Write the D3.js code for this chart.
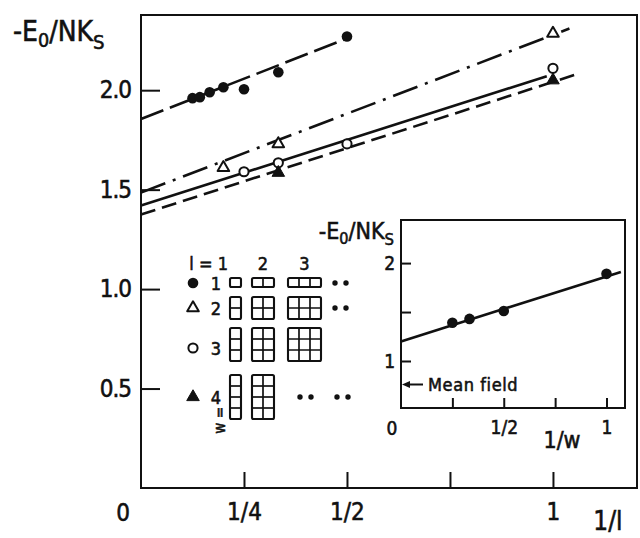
<!DOCTYPE html>
<html>
<head>
<meta charset="utf-8">
<script src="https://cdn.jsdelivr.net/npm/d3@7"></script>
<style>
body { margin: 0; background: #fff; }
text { stroke: #111; stroke-width: 0.55px; }
</style>
</head>
<body>
<div id="chart"></div>
<script>
var width = 640;
var height = 538;
var font = "'DejaVu Sans Condensed', 'DejaVu Sans', sans-serif";
var ink = "#111";

// main plot: -E0/NKs against 1/l, one series per strip width w
var stripWidths = [1, 2, 3, 4];
var markers = ["dot", "triangle", "circle", "triangleFilled"];
var xValues = [
    [1/8, 1/7, 1/6, 1/5, 1/4, 1/3, 1/2],
    [1/5, 1/3, 1],
    [1/4, 1/3, 1/2, 1],
    [1/3, 1]
];
var yValues = [
    [1.96, 1.965, 1.99, 2.015, 2.005, 2.09, 2.27],
    [1.61, 1.73, 2.285],
    [1.59, 1.635, 1.73, 2.11],
    [1.585, 2.05]
];
// straight fits, start and end point of each
var fitX = [[0, 0.5], [0, 1.04], [0, 0.985], [0, 1.065]];
var fitY = [[1.855, 2.26], [1.485, 2.31], [1.42, 2.07], [1.375, 2.085]];

var xTicks = [0.25, 0.5, 0.75, 1];
var xTickLabels = ["1/4", "1/2", "", "1"];
var yTicks = [0.5, 1.0, 1.5, 2.0];
var yTickLabels = ["0.5", "1.0", "1.5", "2.0"];

// inset: l -> infinity against 1/w
var insetX = [1/4, 1/3, 1/2, 1];
var insetY = [1.39, 1.43, 1.51, 1.89];
var insetFitX = [0, 1.07];
var insetFitY = [1.2, 1.91];
var meanField = 0.76;
var insetXTicks = [0.25, 0.5, 0.75, 1];
var insetXTickLabels = ["", "1/2", "", "1"];
var insetYTicks = [1, 1.5, 2];
var insetYTickLabels = ["1", "", "2"];

// legend: lattices l x w
var legendL = [1, 2, 3];

var svg = d3.select("#chart")
    .append("svg")
    .attr("width", width)
    .attr("height", height)
    .style("background-color", "#fff");

var dashes = ["24,7", "26,8,3,8", null, "15,7"];

var xScale = d3.scaleLinear().domain([0, 1.204]).range([141, 637]);
var yScale = d3.scaleLinear().domain([0, 2.378]).range([488, 15]);

function styleAxis(g, size) {
    g.attr("font-family", font).attr("font-size", size);
    g.select(".domain").remove();
    g.selectAll(".tick line").attr("stroke", ink).attr("stroke-width", 2);
    g.selectAll(".tick text").attr("fill", ink);
}

function energyLabel(x, y, size, anchor) {
    var t = svg.append("text")
        .attr("x", x).attr("y", y)
        .attr("font-family", font)
        .attr("font-size", size)
        .attr("text-anchor", anchor)
        .attr("fill", ink);
    t.append("tspan").text("-E");
    t.append("tspan").text("0").attr("font-size", size * 0.7).attr("dy", size * 0.22);
    t.append("tspan").text("/NK").attr("dy", -size * 0.22);
    t.append("tspan").text("S").attr("font-size", size * 0.72).attr("dy", size * 0.28);
}

function marker(g, type, cx, cy) {
    if (type == "dot") {
        g.append("circle").attr("cx", cx).attr("cy", cy).attr("r", 5.3).attr("fill", ink);
    } else if (type == "circle") {
        g.append("circle").attr("cx", cx).attr("cy", cy).attr("r", 4.6)
            .attr("fill", "#fff").attr("stroke", ink).attr("stroke-width", 2);
    } else {
        var filled = type == "triangleFilled";
        g.append("path")
            .attr("d", d3.symbol().type(d3.symbolTriangle).size(filled ? 68 : 58)())
            .attr("transform", "translate(" + cx + "," + cy + ")")
            .attr("fill", filled ? ink : "#fff")
            .attr("stroke", ink)
            .attr("stroke-width", filled ? 1 : 2)
            .attr("stroke-linejoin", "round");
    }
}

// frame
svg.append("rect")
    .attr("x", xScale(0)).attr("y", yScale(2.378))
    .attr("width", xScale(1.204) - xScale(0))
    .attr("height", yScale(0) - yScale(2.378))
    .attr("fill", "none").attr("stroke", ink).attr("stroke-width", 2);

var xAxis = svg.append("g")
    .attr("transform", "translate(0," + yScale(0) + ")")
    .call(d3.axisBottom(xScale).tickValues(xTicks)
        .tickFormat((d, i) => xTickLabels[i]).tickSize(-16).tickPadding(15));
styleAxis(xAxis, 24);

var yAxis = svg.append("g")
    .attr("transform", "translate(" + xScale(0) + ",0)")
    .call(d3.axisLeft(yScale).tickValues(yTicks)
        .tickFormat((d, i) => yTickLabels[i]).tickSize(-19).tickPadding(10));
styleAxis(yAxis, 24);
yAxis.selectAll(".tick text").attr("letter-spacing", -1);

svg.append("text")
    .attr("x", 123).attr("y", 521)
    .attr("text-anchor", "middle")
    .attr("font-family", font).attr("font-size", 24).attr("fill", ink)
    .text("0");

svg.append("text")
    .attr("x", 608).attr("y", 530)
    .attr("text-anchor", "middle")
    .attr("font-family", font).attr("font-size", 26).attr("fill", ink)
    .text("1/l");

energyLabel(13, 41, 28, "start");

// fitted lines then points
var line = d3.line();
stripWidths.forEach(function (w, i) {
    var pts = fitX[i].map((x, j) => [xScale(x), yScale(fitY[i][j])]);
    svg.append("path")
        .attr("d", line(pts))
        .attr("fill", "none")
        .attr("stroke", ink)
        .attr("stroke-width", 2.6)
        .attr("stroke-dasharray", dashes[i]);
});

var pointLayer = svg.append("g");
stripWidths.forEach(function (w, i) {
    xValues[i].forEach(function (x, j) {
        marker(pointLayer, markers[i], xScale(x), yScale(yValues[i][j]));
    });
});

// legend
var legend = svg.append("g")
    .attr("font-family", font)
    .attr("fill", ink);
var colLeft = [230, 252, 288];
var rowTop = [278, 297, 328, 375];
var rowMid = [283, 308, 348, 397];
var cell = 11;

legend.append("text").attr("x", 228).attr("y", 270).attr("font-size", 18)
    .attr("text-anchor", "end").attr("fill", ink).text("l = 1");
legendL.slice(1).forEach(function (l, i) {
    legend.append("text")
        .attr("x", colLeft[i + 1] + l * cell / 2).attr("y", 270)
        .attr("font-size", 18).attr("text-anchor", "middle").attr("fill", ink)
        .text(l);
});

stripWidths.forEach(function (w, r) {
    marker(legend, markers[r], 193, rowMid[r]);
    legend.append("text")
        .attr("x", 216).attr("y", rowMid[r] + 6.5)
        .attr("font-size", 18).attr("text-anchor", "middle").attr("fill", ink)
        .text(w);
    var ch = w == 1 ? 9 : cell;
    legendL.forEach(function (l, c) {
        if (w == 4 && l == 3) return;
        var gx = colLeft[c], gy = rowTop[r];
        var g = legend.append("g");
        for (var k = 1; k < l; k++) {
            g.append("line").attr("x1", gx + k * cell).attr("x2", gx + k * cell)
                .attr("y1", gy).attr("y2", gy + w * ch);
        }
        for (var k = 1; k < w; k++) {
            g.append("line").attr("x1", gx).attr("x2", gx + l * cell)
                .attr("y1", gy + k * ch).attr("y2", gy + k * ch);
        }
        g.selectAll("line").attr("stroke", ink).attr("stroke-width", 1.7);
        g.append("rect").attr("x", gx).attr("y", gy)
            .attr("width", l * cell).attr("height", w * ch).attr("rx", 1.5)
            .attr("fill", "none").attr("stroke", ink).attr("stroke-width", 2.1);
    });
});

function dotPair(x, y) {
    legend.append("circle").attr("cx", x).attr("cy", y).attr("r", 2.7).attr("fill", ink);
    legend.append("circle").attr("cx", x + 11).attr("cy", y).attr("r", 2.7).attr("fill", ink);
}
dotPair(335, rowMid[0]);
dotPair(335, rowMid[1]);
dotPair(300, rowMid[3]);
dotPair(337, rowMid[3]);

legend.append("text")
    .attr("transform", "translate(225,407) rotate(-90)")
    .attr("text-anchor", "end").attr("font-size", 15).attr("fill", ink)
    .text("w =");

// inset
var ix = d3.scaleLinear().domain([0, 1.09]).range([401, 625]);
var iy = d3.scaleLinear().domain([0.52, 2.44]).range([408, 220]);

svg.append("rect")
    .attr("x", ix(0)).attr("y", iy(2.44))
    .attr("width", ix(1.09) - ix(0)).attr("height", iy(0.52) - iy(2.44))
    .attr("fill", "#fff").attr("stroke", ink).attr("stroke-width", 2);

var ixAxis = svg.append("g")
    .attr("transform", "translate(0," + iy(0.52) + ")")
    .call(d3.axisBottom(ix).tickValues(insetXTicks)
        .tickFormat((d, i) => insetXTickLabels[i]).tickSize(-10).tickPadding(13));
styleAxis(ixAxis, 19);

var iyAxis = svg.append("g")
    .attr("transform", "translate(" + ix(0) + ",0)")
    .call(d3.axisLeft(iy).tickValues(insetYTicks)
        .tickFormat((d, i) => insetYTickLabels[i]).tickSize(-10).tickPadding(6));
styleAxis(iyAxis, 19);

svg.append("text")
    .attr("x", 392).attr("y", 435)
    .attr("text-anchor", "middle")
    .attr("font-family", font).attr("font-size", 19).attr("fill", ink)
    .text("0");

svg.append("text")
    .attr("x", 562).attr("y", 448)
    .attr("text-anchor", "middle")
    .attr("font-family", font).attr("font-size", 23).attr("fill", ink)
    .text("1/w");

energyLabel(394, 239, 23, "end");

svg.append("path")
    .attr("d", line(insetFitX.map((x, j) => [ix(x), iy(insetFitY[j])])))
    .attr("fill", "none").attr("stroke", ink).attr("stroke-width", 2.6);

insetX.forEach(function (x, j) {
    marker(svg, "dot", ix(x), iy(insetY[j]));
});

// mean field arrow
var my = iy(meanField);
svg.append("line")
    .attr("x1", ix(0) + 22).attr("x2", ix(0) + 6)
    .attr("y1", my).attr("y2", my)
    .attr("stroke", ink).attr("stroke-width", 2);
svg.append("path")
    .attr("d", "M" + (ix(0) + 1) + "," + my + "l8,-3.5l0,7z")
    .attr("fill", ink);
svg.append("text")
    .attr("x", ix(0) + 27).attr("y", my + 6.5)
    .attr("font-family", font).attr("font-size", 18)
    .attr("letter-spacing", 0.6).attr("fill", ink)
    .text("Mean field");
</script>
</body>
</html>
